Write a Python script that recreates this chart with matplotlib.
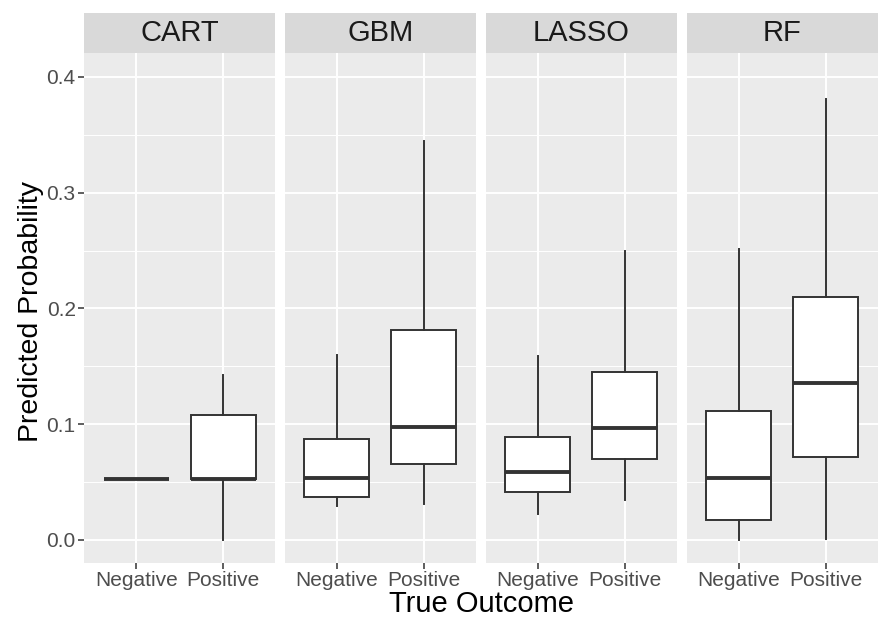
import matplotlib
matplotlib.use("Agg")
import matplotlib.pyplot as plt

plt.rcParams['font.family'] = ['Liberation Sans', 'DejaVu Sans']

# datos (cuartiles y bigotes)
modelos = ["CART", "GBM", "LASSO", "RF"]
clases = ["Negative", "Positive"]
whislo = [[0.0526, 0.0], [0.0293, 0.0314], [0.0227, 0.0342], [0.0, 0.001]]
q1 = [[0.0526, 0.0526], [0.0374, 0.0659], [0.0411, 0.0696], [0.0172, 0.0718]]
med = [[0.0526, 0.0526], [0.0532, 0.0975], [0.0590, 0.0964], [0.0537, 0.1359]]
q3 = [[0.0526, 0.108], [0.0869, 0.181], [0.0889, 0.145], [0.1112, 0.2103]]
whishi = [[0.0526, 0.1426], [0.1594, 0.3444], [0.159, 0.2494], [0.2511, 0.3807]]
yticks = [0.0, 0.1, 0.2, 0.3, 0.4]

W, H = 879, 617
fig = plt.figure(figsize=(W / 100, H / 100), dpi=100)

lefts = [84, 284.7, 485.7, 686.7]
pw = 191.3
top, bottom, strip_top = 53, 563, 12.5

for k, modelo in enumerate(modelos):
    ax = fig.add_axes([lefts[k] / W, (H - bottom) / H, pw / W, (bottom - top) / H])
    ax.set_facecolor('#EBEBEB')
    stats = []
    for j in range(2):
        stats.append({'med': med[k][j], 'q1': q1[k][j], 'q3': q3[k][j],
                      'whislo': whislo[k][j], 'whishi': whishi[k][j], 'fliers': []})
    ax.bxp(stats, positions=[1, 2], widths=0.75, showcaps=False, showfliers=False,
           patch_artist=True,
           boxprops=dict(facecolor='white', edgecolor='#333333', linewidth=1.4),
           whiskerprops=dict(color='#333333', linewidth=1.4),
           medianprops=dict(color='#333333', linewidth=2.8, solid_capstyle='butt'))
    ax.set_xlim(0.4, 2.6)
    ax.set_ylim(-0.0199, 0.4207)
    ax.set_yticks(yticks)
    ax.set_yticks([0.05, 0.15, 0.25, 0.35], minor=True)
    ax.set_xticks([1, 2])
    ax.set_xticklabels(clases)
    ax.grid(which='major', color='white', linewidth=1.4)
    ax.grid(which='minor', axis='y', color='white', linewidth=0.7)
    ax.set_axisbelow(True)
    for s in ax.spines.values():
        s.set_visible(False)
    ax.tick_params(axis='both', which='major', length=4, width=1.1, color='#333333',
                   labelsize=15, labelcolor='#4D4D4D', pad=2)
    ax.tick_params(axis='y', which='minor', length=0)
    if k == 0:
        ax.set_yticklabels([f"{v:.1f}" for v in yticks])
    else:
        ax.tick_params(axis='y', which='major', length=0, labelleft=False)

    # franja del titulo del panel
    sax = fig.add_axes([lefts[k] / W, (H - top) / H, pw / W, (top - strip_top) / H])
    sax.set_facecolor('#D9D9D9')
    sax.set_xticks([])
    sax.set_yticks([])
    for s in sax.spines.values():
        s.set_visible(False)
    sax.text(0.5, 0.5, modelo, ha='center', va='center', fontsize=21, color='#1A1A1A',
             transform=sax.transAxes)

fig.text(482 / W, 1 - 612 / H, "True Outcome", ha='center', va='baseline', fontsize=21)
fig.text(31 / W, 1 - 311 / H, "Predicted Probability", ha='center', va='center',
         rotation=90, fontsize=20.5)

plt.savefig("out.png", dpi=100)
